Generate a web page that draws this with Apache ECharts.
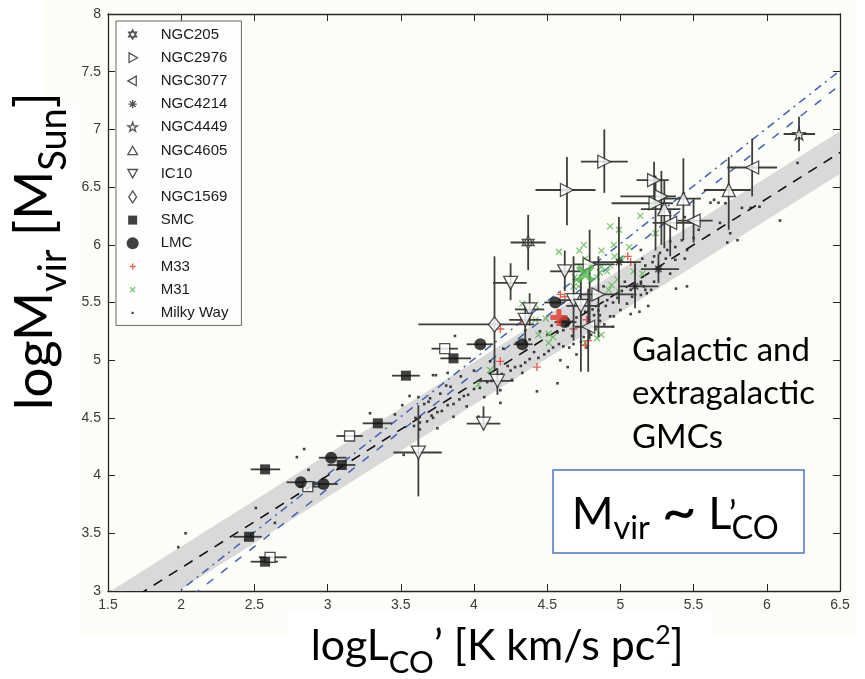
<!DOCTYPE html>
<html>
<head>
<meta charset="utf-8">
<script src="https://cdn.jsdelivr.net/npm/echarts@6/dist/echarts.min.js"></script>
<style>
  html, body { margin: 0; padding: 0; background: #ffffff; }
  #chart { width: 865px; height: 679px; }
</style>
</head>
<body>
<div id="chart"></div>
<script>
// ---- axes ----
const xTickLabels = ['1.5', '2', '2.5', '3', '3.5', '4', '4.5', '5', '5.5', '6', '6.5'];
const yTickLabels = ['3', '3.5', '4', '4.5', '5', '5.5', '6', '6.5', '7', '7.5', '8'];

// ---- reference relations (log L'co -> log Mvir) ----
const fitX = [1.5, 6.5];
const fitBlack = [2.80, 6.80];
const fitBlueDashed = [2.385, 7.385];
const fitBlueDashDot = [2.51, 7.51];
const bandLow = [2.615, 6.615];
const bandHigh = [2.985, 6.985];

// ---- clouds with error bars: [logL, logM, logL_lo, logL_hi, logM_lo, logM_hi] ----
const ngc205 = [[4.37, 6.02, 4.25, 4.49, 5.78, 6.26]];
const ngc2976 = [
  [4.89, 6.72, 4.73, 5.05, 6.45, 7.00],
  [4.635, 6.475, 4.42, 4.83, 6.17, 6.76],
  [5.23, 6.56, 5.11, 5.33, 6.37, 6.72],
  [5.28, 6.42, 5.00, 5.38, 6.00, 6.64],
  [5.24, 6.36, 4.94, 5.36, 5.95, 6.60],
  [4.79, 5.83, 4.68, 4.96, 5.18, 6.13],
  [4.85, 5.57, 4.72, 5.09, 5.20, 5.90]
];
const ngc3077 = [
  [5.90, 6.67, 5.73, 6.07, 6.42, 6.92],
  [5.34, 6.19, 5.22, 5.50, 5.90, 6.30],
  [5.50, 6.21, 5.39, 5.63, 6.02, 6.40],
  [4.78, 5.29, 4.69, 4.95, 4.90, 5.62]
];
const ngc4214 = [
  [5.26, 5.79, 5.14, 5.40, 5.67, 5.92],
  [5.10, 5.64, 4.99, 5.26, 5.45, 5.84],
  [4.99, 5.85, 4.81, 5.14, 5.49, 6.24]
];
const ngc4449 = [[6.22, 6.96, 6.115, 6.33, 6.81, 7.11]];
const ngc4605 = [
  [5.43, 6.40, 5.27, 5.55, 6.04, 6.75],
  [5.30, 6.31, 5.14, 5.41, 5.97, 6.56],
  [5.74, 6.475, 5.57, 5.89, 6.13, 6.76]
];
const ic10 = [
  [4.25, 5.67, 4.13, 4.36, 5.52, 5.84],
  [4.16, 4.82, 4.02, 4.27, 4.70, 4.93],
  [4.065, 4.45, 3.95, 4.18, 4.40, 4.60],
  [3.62, 4.20, 3.45, 3.78, 3.82, 4.61],
  [4.62, 5.77, 4.52, 4.73, 5.60, 5.95],
  [4.68, 5.52, 4.58, 4.80, 5.17, 5.90],
  [4.73, 5.47, 4.63, 4.86, 4.90, 5.70],
  [4.38, 5.44, 4.28, 4.48, 5.30, 5.58],
  [4.35, 5.35, 4.24, 4.46, 5.15, 5.48]
];
const ngc1569 = [[4.14, 5.31, 3.62, 4.41, 4.92, 5.90]];
const smc = [
  [2.573, 4.054, 2.475, 2.676, 4.054, 4.054],
  [2.464, 3.47, 2.354, 2.55, 3.47, 3.47],
  [2.573, 3.254, 2.475, 2.66, 3.254, 3.254],
  [3.097, 4.092, 3.00, 3.19, 4.092, 4.092],
  [3.343, 4.453, 3.24, 3.44, 4.453, 4.453],
  [3.535, 4.866, 3.44, 3.63, 4.866, 4.866],
  [3.86, 5.016, 3.77, 3.98, 5.016, 5.016]
];
const smcOpen = [
  [2.607, 3.292, 2.53, 2.72, 3.292, 3.292],
  [2.865, 3.904, 2.80, 2.95, 3.904, 3.904],
  [3.15, 4.343, 3.06, 3.24, 4.343, 4.343],
  [3.80, 5.10, 3.71, 3.89, 5.10, 5.10]
];
const lmc = [
  [2.817, 3.942, 2.72, 2.92, 3.942, 3.942],
  [2.972, 3.927, 2.86, 3.07, 3.927, 3.927],
  [3.024, 4.155, 2.94, 3.13, 4.155, 4.155],
  [4.043, 5.138, 3.95, 4.13, 5.138, 5.138],
  [4.33, 5.138, 4.27, 4.40, 5.138, 5.138],
  [4.555, 5.50, 4.48, 4.62, 5.50, 5.50],
  [4.62, 5.33, 4.55, 4.70, 5.33, 5.33]
];

// ---- clouds without error bars: [logL, logM] ----
const m33 = [
  [4.18, 5.27], [4.32, 5.35], [4.18, 4.99], [4.43, 4.94], [4.59, 5.57], [4.62, 5.55],
  [4.68, 5.27], [4.77, 5.35], [4.78, 5.17], [4.76, 5.13], [5.05, 5.90], [5.07, 5.85]
];
const m33Mean = [[4.58, 5.37]];
const m31 = [
  [4.58, 5.94], [4.75, 6.00], [4.72, 5.95], [4.76, 5.88], [4.87, 5.95], [4.93, 6.16],
  [4.99, 6.13], [4.955, 6.00], [5.06, 5.98], [5.00, 5.88], [4.69, 5.72], [4.715, 5.64],
  [4.91, 5.77], [4.33, 5.49], [4.42, 5.48], [4.49, 5.36], [4.42, 5.35], [4.51, 5.23],
  [4.84, 5.19], [4.82, 5.28], [4.44, 5.22], [4.51, 5.15], [4.54, 5.20], [4.87, 5.22],
  [4.11, 4.915], [4.03, 4.79], [4.76, 5.15], [5.136, 6.25], [5.216, 6.34], [5.24, 6.10],
  [4.87, 5.81], [4.93, 5.82], [4.84, 5.72], [4.94, 5.65], [4.96, 5.90], [5.01, 5.87],
  [5.09, 5.77], [5.15, 5.75], [4.92, 5.61], [4.70, 5.695], [4.68, 5.64], [4.98, 5.70],
  [4.99, 5.59], [4.86, 5.76]
];
const m31Mean = [[4.76, 5.75]];
const milkyWay = [
  [1.98, 3.38], [2.03, 3.50], [2.51, 3.72], [2.64, 3.59], [2.79, 4.16], [2.84, 4.23],
  [2.87, 4.05], [3.29, 4.54], [3.46, 4.53], [3.52, 4.18], [3.56, 4.69], [3.62, 4.68],
  [3.63, 4.40], [3.69, 4.64], [3.72, 4.50], [3.72, 4.87], [3.74, 4.87], [3.81, 4.78],
  [3.82, 4.89], [3.51, 4.61], [3.60, 4.50],
  [3.59, 4.43], [3.63, 4.46], [3.68, 4.47], [3.71, 4.52], [3.75, 4.55], [3.78, 4.56],
  [3.82, 4.61], [3.86, 4.62], [3.90, 4.66], [3.93, 4.69], [3.96, 4.70], [4.00, 4.75],
  [4.04, 4.76], [4.09, 4.81], [4.12, 4.82], [4.16, 4.87], [4.19, 4.88], [4.23, 4.95],
  [4.25, 4.91], [4.28, 4.94], [4.32, 4.95], [4.35, 4.98], [4.38, 5.01], [4.41, 5.07],
  [4.44, 5.02], [4.48, 5.05], [4.51, 5.08], [4.54, 5.11], [4.58, 5.14], [4.61, 5.12],
  [4.65, 5.11], [4.68, 5.14], [4.73, 5.16], [4.75, 5.20], [4.80, 5.22], [4.83, 5.27],
  [4.86, 5.34], [4.89, 5.31],
  [4.35, 5.26], [4.45, 5.25], [4.50, 5.22], [4.53, 5.30], [4.57, 5.24], [4.61, 5.26],
  [4.67, 5.21], [4.70, 5.37], [4.76, 5.42], [4.81, 5.44], [4.85, 5.43], [4.90, 5.47],
  [4.93, 5.38], [4.95, 5.50], [4.98, 5.54], [5.01, 5.60], [5.07, 5.61], [5.10, 5.57],
  [5.14, 5.66], [5.18, 5.58],
  [4.59, 5.00], [4.64, 4.94], [4.43, 4.73], [4.57, 4.80], [4.70, 5.05], [4.77, 5.11],
  [4.95, 5.29], [5.07, 5.40], [5.13, 5.42], [5.19, 5.47], [3.87, 5.21], [4.11, 4.99],
  [4.20, 5.10], [4.29, 5.15], [4.38, 5.18], [4.00, 4.91], [3.91, 4.86], [3.84, 4.77],
  [3.77, 4.71], [3.70, 4.67], [3.66, 4.62], [4.07, 4.68], [3.95, 4.60], [3.86, 4.51],
  [4.18, 4.74], [4.26, 4.83], [4.33, 4.89], [4.18, 4.63], [4.03, 4.51], [3.75, 4.41],
  [5.615, 6.365], [5.67, 6.365], [5.717, 6.36], [5.83, 6.32], [5.89, 6.32], [5.95, 6.33],
  [6.21, 6.71], [6.09, 6.21], [5.75, 6.10], [5.68, 6.19], [5.73, 6.02], [5.80, 6.04],
  [5.44, 6.24], [5.42, 6.04], [5.34, 6.03], [5.375, 5.98], [5.32, 5.955], [5.27, 5.93],
  [5.23, 5.90], [5.14, 5.955], [5.15, 5.88], [5.22, 5.85], [5.31, 5.88], [5.34, 5.75],
  [5.44, 5.88], [5.38, 5.62], [5.455, 5.64], [5.14, 5.68], [5.17, 5.61], [5.21, 5.61],
  [5.64, 6.39], [5.535, 6.13], [5.50, 6.06], [5.455, 5.955], [5.375, 5.87], [5.17, 5.82],
  [5.23, 5.68], [5.16, 5.64], [5.14, 5.565], [5.08, 5.55], [5.03, 5.68], [5.045, 5.49],
  [5.00, 5.435], [4.955, 5.38], [4.91, 5.52], [4.885, 5.64], [4.86, 5.39], [4.82, 5.39]
];

const legendNames = ['NGC205', 'NGC2976', 'NGC3077', 'NGC4214', 'NGC4449', 'NGC4605',
  'IC10', 'NGC1569', 'SMC', 'LMC', 'M33', 'M31', 'Milky Way'];

// ---- symbol shapes ----
const HEXAGRAM = 'path://M0,-10L8.66,5L-8.66,5ZM0,10L8.66,-5L-8.66,-5Z';
const STAR = 'path://M0,-10L2.35,-3.24L9.51,-3.09L3.8,1.24L5.88,8.09L0,4L-5.88,8.09L-3.8,1.24L-9.51,-3.09L-2.35,-3.24Z';
const ASTERISK = 'path://M0,-10L0,10M-10,0L10,0M-7.07,-7.07L7.07,7.07M-7.07,7.07L7.07,-7.07';
const PLUS = 'path://M0,-10L0,10M-10,0L10,0';
const CROSS = 'path://M-10,-10L10,10M-10,10L10,-10';

// legend icons padded with move-to corners so they draw smaller inside the icon box
const legendIcons = {
  'NGC205': 'path://M-13,-13M13,13M0,-10L8.66,5L-8.66,5ZM0,10L8.66,-5L-8.66,-5Z',
  'NGC2976': 'path://M-10,-10M10,10M-6,-8L8,0L-6,8Z',
  'NGC3077': 'path://M-10,-10M10,10M6,-8L-8,0L6,8Z',
  'NGC4214': 'path://M-13,-13M13,13M0,-9L0,9M-9,0L9,0M-6.4,-6.4L6.4,6.4M-6.4,6.4L6.4,-6.4',
  'NGC4449': 'path://M-12,-12M12,12M0,-10L2.35,-3.24L9.51,-3.09L3.8,1.24L5.88,8.09L0,4L-5.88,8.09L-3.8,1.24L-9.51,-3.09L-2.35,-3.24Z',
  'NGC4605': 'path://M-10,-10M10,10M0,-7L8,7L-8,7Z',
  'IC10': 'path://M-10,-10M10,10M0,7L8,-7L-8,-7Z',
  'NGC1569': 'path://M-10,-10M10,10M0,-10L6.5,0L0,10L-6.5,0Z',
  'SMC': 'path://M-12,-12M12,12M-9,-9L9,-9L9,9L-9,9Z',
  'M33': 'path://M-10,-10M10,10M0,-5L0,5M-5,0L5,0',
  'M31': 'path://M-10,-10M10,10M-4,-4L4,4M-4,4L4,-4',
  'Milky Way': 'path://M-10,-10M10,10M-1.8,-1.8L1.8,-1.8L1.8,1.8L-1.8,1.8Z'
};

const INK = '#262626';
const ERR = '#3d3d3d';
const RED = '#e5382d';
const GREEN = '#4fb447';
const openStyle = { color: '#ffffff', borderColor: INK, borderWidth: 1.3 };

function pts(rows) { return rows.map(r => [r[0], r[1]]); }

const errorRows = [].concat(ngc205, ngc2976, ngc3077, ngc4214, ngc4449, ngc4605,
  ic10, ngc1569, smc, smcOpen, lmc);

function renderErrors(params, api) {
  const x = api.value(0), y = api.value(1);
  const c = api.coord([x, y]);
  const xl = api.coord([api.value(2), y]);
  const xh = api.coord([api.value(3), y]);
  const yl = api.coord([x, api.value(4)]);
  const yh = api.coord([x, api.value(5)]);
  const st = { stroke: ERR, lineWidth: 1.8, fill: null };
  return {
    type: 'group',
    children: [
      { type: 'line', shape: { x1: xl[0], y1: c[1], x2: xh[0], y2: c[1] }, style: st },
      { type: 'line', shape: { x1: c[0], y1: yh[1], x2: c[0], y2: yl[1] }, style: st }
    ]
  };
}

function renderBand(params, api) {
  if (params.dataIndex !== 0) return;
  const poly = [];
  for (let i = 0; i < fitX.length; i++) poly.push(api.coord([fitX[i], bandHigh[i]]));
  for (let i = fitX.length - 1; i >= 0; i--) poly.push(api.coord([fitX[i], bandLow[i]]));
  return { type: 'polygon', shape: { points: poly }, style: { fill: '#d9d9d9' } };
}

// ---- text runs with subscripts / superscripts ----
const TFONT = 'Lato';
const mctx = document.createElement('canvas').getContext('2d');
function measure(text, size) { mctx.font = size + 'px ' + TFONT; return mctx.measureText(text); }
function runWidth(pieces, size) {
  let w = 0;
  pieces.forEach(p => { if (p.adv !== false) w += measure(p.t, size * (p.k || 1)).width; });
  return w;
}
function fitSize(pieces, width) { return 40 * width / runWidth(pieces, 40); }
function textRun(pieces, size, z) {
  let x = 0;
  const kids = [];
  pieces.forEach(p => {
    const fs = size * (p.k || 1);
    const m = measure(p.t, fs);
    const asc = (m.fontBoundingBoxAscent != null) ? m.fontBoundingBoxAscent : fs * 0.8;
    const dsc = (m.fontBoundingBoxDescent != null) ? m.fontBoundingBoxDescent : fs * 0.2;
    const mid = (asc - dsc) / 2;
    kids.push({
      type: 'text', silent: true, z: z || 10,
      x: x + (p.dx || 0) * size, y: (p.dy || 0) * size - mid,
      style: {
        text: p.t, fontSize: fs, fontFamily: TFONT, fill: '#000',
        align: 'left', verticalAlign: 'middle', textAlign: 'left', textVerticalAlign: 'middle'
      }
    });
    if (p.adv !== false) x += m.width;
  });
  return kids;
}

const xTitle = [
  { t: 'logL' }, { t: 'CO', k: 0.72, dy: 0.26 }, { t: '\u2019' },
  { t: ' [K km/s pc' }, { t: '2', k: 0.62, dy: -0.40 }, { t: ']' }
];
const yTitle = [
  { t: 'logM' }, { t: 'vir', k: 0.72, dy: 0.26 }, { t: ' [M' },
  { t: 'Sun', k: 0.72, dy: 0.26 }, { t: ']' }
];
const formula = [
  { t: 'M' }, { t: 'vir', k: 0.72, dy: 0.2 }, { t: ' ' }, { t: '~', k: 1.35, dy: 0.1 }, { t: ' ' }, { t: 'L' },
  { t: '\u2019', k: 0.8, dx: -0.06, dy: -0.05, adv: false }, { t: 'CO', k: 0.72, dy: 0.2 }
];
const noteLines = ['Galactic and', 'extragalactic', 'GMCs'];

const xTitleSize = fitSize(xTitle, 373);
const yTitleSize = fitSize(yTitle, 318);
const formulaSize = fitSize(formula, 207);
const noteSize = fitSize([{ t: noteLines[0] }], 178);

const graphicElements = [
  { type: 'rect', z: -20, silent: true, shape: { x: 45, y: 0, width: 810, height: 636 }, style: { fill: '#fdfdf8' } },
  { type: 'rect', z: -19, silent: true, shape: { x: 0, y: 105, width: 80, height: 574 }, style: { fill: '#ffffff' } },
  { type: 'rect', z: -19, silent: true, shape: { x: 288, y: 610, width: 424, height: 69 }, style: { fill: '#ffffff' } },
  { type: 'group', x: 310.7, y: 663, children: textRun(xTitle, xTitleSize) },
  { type: 'group', x: 55, y: 410, rotation: Math.PI / 2, children: textRun(yTitle, yTitleSize) },
  { type: 'rect', z: 20, silent: true, shape: { x: 553, y: 470, width: 251, height: 83 },
    style: { fill: '#ffffff', stroke: '#4a76c6', lineWidth: 1.5 } },
  { type: 'group', x: 571.7, y: 531.7, children: textRun(formula, formulaSize, 30) }
];
noteLines.forEach((line, i) => {
  graphicElements.push({ type: 'group', x: 632, y: 363.3 + i * 43.4, children: textRun([{ t: line }], noteSize) });
});

const chart = echarts.init(document.getElementById('chart'), null, { renderer: 'canvas' });

const axisCommon = {
  type: 'value',
  splitLine: { show: false },
  axisLine: { show: true, onZero: false, lineStyle: { color: INK, width: 1.3 } },
  axisTick: { show: true, inside: true, length: 7, lineStyle: { color: INK, width: 1 } }
};

chart.setOption({
  animation: false,
  backgroundColor: '#ffffff',
  grid: { left: 108, right: 25, top: 14, bottom: 88 },
  xAxis: [
    Object.assign({}, axisCommon, {
      min: 1.5, max: 6.5, interval: 0.5, position: 'bottom',
      axisLabel: {
        margin: 7, color: '#3a3a3a', fontSize: 14, fontFamily: 'Liberation Sans',
        formatter: v => xTickLabels[Math.round((v - 1.5) / 0.5)]
      }
    }),
    Object.assign({}, axisCommon, {
      min: 1.5, max: 6.5, interval: 0.5, position: 'top', axisLabel: { show: false }
    })
  ],
  yAxis: [
    Object.assign({}, axisCommon, {
      min: 3, max: 8, interval: 0.5, position: 'left',
      axisLabel: {
        margin: 7, color: '#3a3a3a', fontSize: 14, fontFamily: 'Liberation Sans',
        formatter: v => yTickLabels[Math.round((v - 3) / 0.5)]
      }
    }),
    Object.assign({}, axisCommon, {
      min: 3, max: 8, interval: 0.5, position: 'right', axisLabel: { show: false }
    })
  ],
  legend: {
    orient: 'vertical', left: 116, top: 21,
    padding: [6, 13, 5, 10],
    itemWidth: 46, itemHeight: 12, itemGap: 8.2,
    selectedMode: false,
    symbolRotate: 0,
    backgroundColor: '#fefefc', borderColor: '#666666', borderWidth: 1,
    itemStyle: { borderWidth: 1.3 },
    textStyle: { fontFamily: 'Liberation Sans', fontSize: 15, color: '#1a1a1a', lineHeight: 12 },
    data: legendNames.map(n => legendIcons[n] ? { name: n, icon: legendIcons[n] } : n)
  },
  graphic: { elements: graphicElements },
  series: [
    { type: 'custom', name: 'band', clip: true, silent: true, z: 1,
      data: fitX.map((x, i) => [x, bandLow[i], bandHigh[i]]), renderItem: renderBand },
    { type: 'line', name: 'fit dash-dot', data: fitX.map((x, i) => [x, fitBlueDashDot[i]]),
      symbol: 'none', silent: true, z: 2, clip: true,
      lineStyle: { color: '#3f62b5', width: 1.5, type: [8, 5, 2, 5] } },
    { type: 'line', name: 'fit dashed', data: fitX.map((x, i) => [x, fitBlueDashed[i]]),
      symbol: 'none', silent: true, z: 2, clip: true,
      lineStyle: { color: '#3f62b5', width: 1.5, type: [8, 10] } },
    { type: 'line', name: 'fit', data: fitX.map((x, i) => [x, fitBlack[i]]),
      symbol: 'none', silent: true, z: 2, clip: true,
      lineStyle: { color: '#111111', width: 1.6, type: [10, 8] } },
    { type: 'scatter', name: 'Milky Way', data: milkyWay, symbol: 'rect', symbolSize: 2.6, z: 3,
      itemStyle: { color: '#111111' } },
    { type: 'scatter', name: 'M31', data: m31, symbol: CROSS, symbolSize: 6, z: 3,
      itemStyle: { color: 'rgba(0,0,0,0)', borderColor: GREEN, borderWidth: 1.2 } },
    { type: 'scatter', name: 'M33', data: m33, symbol: PLUS, symbolSize: 8, z: 3,
      itemStyle: { color: 'rgba(0,0,0,0)', borderColor: RED, borderWidth: 1.4 } },
    { type: 'custom', name: 'error bars', clip: true, silent: true, z: 4,
      data: errorRows, renderItem: renderErrors },
    { type: 'scatter', name: 'NGC205', data: pts(ngc205), symbol: HEXAGRAM, symbolSize: 12, z: 5, itemStyle: openStyle },
    { type: 'scatter', name: 'NGC2976', data: pts(ngc2976), symbol: 'triangle', symbolRotate: -90, symbolSize: 13, z: 5, itemStyle: openStyle },
    { type: 'scatter', name: 'NGC3077', data: pts(ngc3077), symbol: 'triangle', symbolRotate: 90, symbolSize: 13, z: 5, itemStyle: openStyle },
    { type: 'scatter', name: 'NGC4214', data: pts(ngc4214), symbol: ASTERISK, symbolSize: 9, z: 5,
      itemStyle: { color: 'rgba(0,0,0,0)', borderColor: INK, borderWidth: 1.5 } },
    { type: 'scatter', name: 'NGC4449', data: pts(ngc4449), symbol: STAR, symbolSize: 12, z: 5, itemStyle: openStyle },
    { type: 'scatter', name: 'NGC4605', data: pts(ngc4605), symbol: 'triangle', symbolSize: 13, z: 5, itemStyle: openStyle },
    { type: 'scatter', name: 'IC10', data: pts(ic10), symbol: 'triangle', symbolRotate: 180, symbolSize: [14, 13], z: 5, itemStyle: openStyle },
    { type: 'scatter', name: 'NGC1569', data: pts(ngc1569), symbol: 'diamond', symbolSize: [12, 15], z: 5, itemStyle: openStyle },
    { type: 'scatter', name: 'SMC (open)', data: pts(smcOpen), symbol: 'rect', symbolSize: 10, z: 5, itemStyle: openStyle },
    { type: 'scatter', name: 'SMC', data: pts(smc), symbol: 'rect', symbolSize: 10, z: 5, itemStyle: { color: '#111111' } },
    { type: 'scatter', name: 'LMC', data: pts(lmc), symbol: 'circle', symbolSize: 12, z: 5, itemStyle: { color: '#111111' } },
    { type: 'scatter', name: 'M33 mean', data: m33Mean, symbol: PLUS, symbolSize: 17, z: 6,
      itemStyle: { color: 'rgba(0,0,0,0)', borderColor: RED, borderWidth: 5 } },
    { type: 'scatter', name: 'M31 mean', data: m31Mean, symbol: CROSS, symbolSize: 15, z: 6,
      itemStyle: { color: 'rgba(0,0,0,0)', borderColor: GREEN, borderWidth: 5 } }
  ]
});
</script>
</body>
</html>
